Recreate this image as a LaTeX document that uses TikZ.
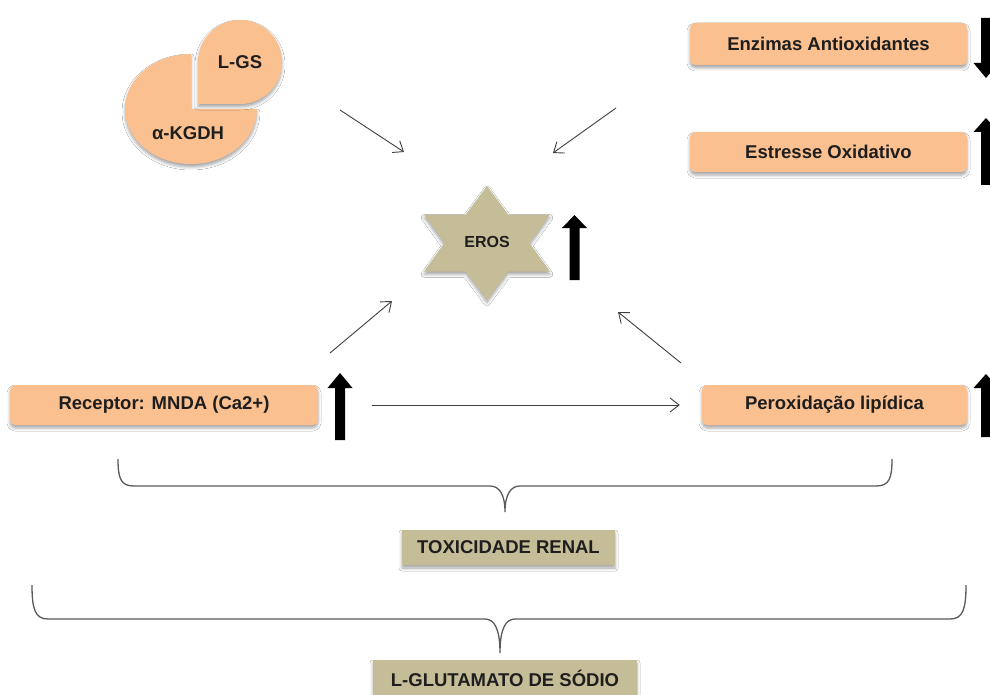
\documentclass[tikz,border=0pt]{standalone}
\usepackage{fontspec}
\setmainfont{Liberation Sans}
\usetikzlibrary{arrows.meta,shadows.blur}

\definecolor{peach}{HTML}{FAC090}
\definecolor{khakibox}{HTML}{C4BD97}
\definecolor{linegray}{HTML}{404040}
\definecolor{bracegray}{HTML}{5A5A5A}
\definecolor{inkdark}{HTML}{1E1E1E}

% thick black block arrow: centre x, tip y, head base y, tail y
% (works pointing up or down)
\newcommand\thickarrow[4]{%
  \fill[black] (#1,#2) -- ++(12.5,#3-#2) -- ++(-7.5,0) |- (#1-5,#4) -- ++(0,#3-#4) -- ++(-7.5,0) -- cycle;}

\tikzset{
  lbl/.style={font=\fontsize{18.5}{20}\selectfont\bfseries, text=inkdark},
  softshadow/.style={blur shadow={shadow xshift=0pt, shadow yshift=-3pt,
      shadow blur radius=3pt, shadow opacity=35}},
  peachbox/.style={rectangle, rounded corners=5pt, fill=peach, inner sep=0pt, lbl, softshadow},
  khbox/.style={rectangle, fill=khakibox, inner sep=0pt, lbl, softshadow},
  link/.style={draw=linegray, line width=0.9pt, -{Straight Barb[length=9pt,width=14pt]}},
  bracestyle/.style={draw=bracegray, line width=1.3pt},
}

\begin{document}
\begin{tikzpicture}[x=1pt,y=-1pt]
\clip (0,0) rectangle (990,695);
\fill[white] (0,0) rectangle (990,695);

% enzyme pieces
\fill[peach, softshadow] (191,109) -- (257,109)
  arc[start angle=0, end angle=270, x radius=66, y radius=55] -- cycle;
\fill[peach, softshadow] (198,104) -- (198,62)
  arc[start angle=180, end angle=450, radius=42] -- cycle;
\node[lbl] (lgs) at (240,62) {L-GS};
\node[lbl] (kgdh) at (188,133) {α-KGDH};

% right-hand boxes
\node[peachbox, minimum width=277pt, minimum height=42pt] (enz) at (828.5,44) {Enzimas Antioxidantes};
\node[peachbox, minimum width=277pt, minimum height=40pt] (est) at (828.5,152) {Estresse Oxidativo};
\thickarrow{986}{78}{63}{18}
\thickarrow{986}{118}{132}{185}

% central star
\fill[khakibox, softshadow, shift={(487,243)}]
  (0,-57) -- (21.2,-28.5) -- (63,-28.5) -- (42.5,0) -- (63,28.5) -- (21.2,28.5)
  -- (0,57) -- (-21.2,28.5) -- (-63,28.5) -- (-42.5,0) -- (-63,-28.5) -- (-21.2,-28.5) -- cycle;
\node[lbl, font=\fontsize{16}{18}\selectfont\bfseries] (eros) at (487,242) {EROS};
\thickarrow{574.5}{215}{228}{280}

% lower boxes
\node[peachbox, minimum width=308pt, minimum height=40pt] (rec) at (164,405) {Receptor: MNDA (Ca2+)};
\node[peachbox, minimum width=265pt, minimum height=40pt] (per) at (834.5,405) {Peroxidação lipídica};
\thickarrow{340}{373}{388}{440}
\thickarrow{986}{374}{388}{437}

\draw[link, shorten <=54pt, shorten >=22pt] (rec.east) -- (per.west);

% arrows towards the star
\coordinate (tlA) at (340,110);  \coordinate (tlB) at (404,152);
\coordinate (trA) at (616,108);  \coordinate (trB) at (553,153);
\coordinate (blA) at (330,353);  \coordinate (blB) at (392,301);
\coordinate (brA) at (681,363);  \coordinate (brB) at (618,312);
\draw[link] (tlA) -- (tlB);
\draw[link] (trA) -- (trB);
\draw[link] (blA) -- (blB);
\draw[link] (brA) -- (brB);

% braces
\draw[bracestyle] (118,459) .. controls (118,479) and (121,486) .. (134,486) -- (490,486)
  .. controls (499,486) and (505,494) .. (505,512)
  .. controls (505,494) and (511,486) .. (520,486) -- (876,486)
  .. controls (889,486) and (892,479) .. (892,459);
\node[khbox, minimum width=213pt, minimum height=35pt] (tox) at (508.5,547.5) {TOXICIDADE RENAL};

\draw[bracestyle] (32,585) .. controls (32,609) and (35,619) .. (48,619) -- (485,619)
  .. controls (494,619) and (500,628) .. (500,653)
  .. controls (500,628) and (506,619) .. (515,619) -- (950,619)
  .. controls (963,619) and (966,609) .. (966,585);
\node[khbox, minimum width=264pt, minimum height=37pt] (glu) at (505,678.5) {L-GLUTAMATO DE SÓDIO};
\end{tikzpicture}
\end{document}
